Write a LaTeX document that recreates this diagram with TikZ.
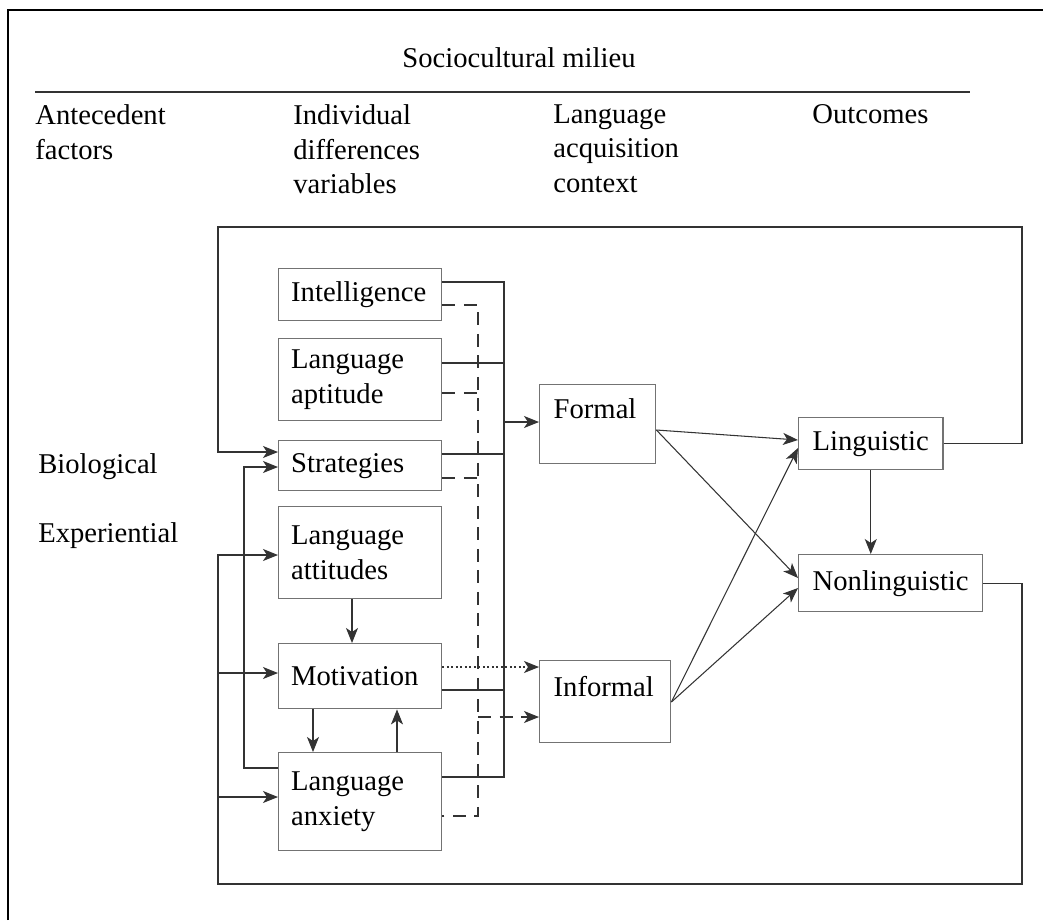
\documentclass[tikz,border=0pt]{standalone}
\usepackage{fontspec}
\setmainfont{Liberation Serif}
\usetikzlibrary{arrows.meta}

\tikzset{
  txt/.style={font=\fontsize{16.3}{19.8}\selectfont, inner sep=0pt},
  tip/.style={-{Stealth[length=0.3cm,width=0.24cm,inset=0.08cm]}},
  conn/.style={draw=black!80, line width=0.6pt},
  arr/.style={conn, tip},
  dashline/.style={conn, dash pattern=on 0.26cm off 0.17cm},
  dotline/.style={conn, dash pattern=on 0.04cm off 0.05cm},
  box/.style={txt, draw=black!55, line width=0.8pt, anchor=north west,
    align=left, inner xsep=0.25cm, inner ysep=0pt},
  leftbox/.style={box, text width=2.76cm},
  ctxbox/.style={box, inner xsep=0.28cm, text height=0.68cm},
  outbox/.style={box, inner xsep=0.28cm}
}

\begin{document}
\begin{tikzpicture}[x=0.02cm,y=-0.02cm]

  \def\busx{504}
  \def\dashx{478}
  \def\loopl{218}
  \def\loopr{1022}
  \def\loopt{227}
  \def\loopb{884}
  \def\fbx{244}

  \useasboundingbox (0,0) rectangle (1043,920);

  % frame
  \draw[line width=1.7pt] (8,920) -- (8,10) -- (1043,10);

  % headings
  \node[txt] (milieu) at (519,58) {Sociocultural milieu};
  \draw[conn, line width=0.7pt] (35,92) -- (970,92);
  \node[txt, anchor=north west, align=left] (antec) at (35,104) {Antecedent\\factors};
  \node[txt, anchor=north west, align=left] (indiv) at (293,104) {Individual\\differences\\variables};
  \node[txt, anchor=north west, align=left] (context) at (553,104) {Language\\acquisition\\context};
  \node[txt, anchor=north west, align=left] (outc) at (812,104) {Outcomes};
  \node[txt, anchor=west] (bio) at (38,467) {Biological};
  \node[txt, anchor=west] (exper) at (38,536) {Experiential};

  % individual differences
  \node[leftbox, minimum height=1.04cm] (intel) at (278,268) {Intelligence};
  \node[leftbox, minimum height=1.64cm] (apt) at (278,338) {Language\\aptitude};
  \node[leftbox, minimum height=1.00cm] (strat) at (278,440) {Strategies};
  \node[leftbox, minimum height=1.84cm] (att) at (278,506) {Language\\attitudes};
  \node[leftbox, minimum height=1.30cm] (motiv) at (278,643) {Motivation};
  \node[leftbox, minimum height=1.96cm] (anx) at (278,752) {Language\\anxiety};

  % contexts and outcomes
  \node[ctxbox, text width=1.76cm, text depth=0.90cm] (formal) at (539,384) {Formal};
  \node[ctxbox, text width=2.06cm, text depth=0.92cm, text height=0.72cm] (informal) at (539,660) {Informal};
  \node[outbox, minimum height=1.04cm] (ling) at (798,417) {Linguistic};
  \node[outbox, minimum height=1.14cm] (nonling) at (798,554) {Nonlinguistic};

  % solid bus to formal
  \draw[conn] (intel.east |- 0,282) -- (\busx,282) -- (\busx,777) -- (anx.east |- 0,777);
  \foreach \n/\y in {apt/363, strat/454, motiv/690}
    \draw[conn] (\n.east |- 0,\y) -- (\busx,\y);
  \draw[arr] (\busx,422) -- (formal.west |- 0,422);

  % dashed bus to informal
  \draw[dashline] (intel.east |- 0,305) -- (\dashx,305) -- (\dashx,816) -- (anx.east |- 0,816);
  \foreach \n/\y in {apt/393, strat/478}
    \draw[dashline] (\n.east |- 0,\y) -- (\dashx,\y);
  \draw[dashline, tip] (\dashx,717) -- (informal.west |- 0,717);
  \draw[dotline, tip] (motiv.east |- 0,667) -- (informal.west |- 0,667);

  % inner arrows
  \draw[arr] (att.south -| 352,0) -- (motiv.north -| 352,0);
  \draw[arr] (motiv.south -| 313,0) -- (anx.north -| 313,0);
  \draw[arr] (anx.north -| 397,0) -- (motiv.south -| 397,0);
  \draw[arr] (anx.west |- 0,768) -| (\fbx,467) -- (strat.west |- 0,467);

  % loops
  \draw[arr] (ling.east) -| (\loopr,\loopt) -| (\loopl,452) -- (strat.west |- 0,452);
  \draw[arr] (nonling.east) -| (\loopr,\loopb) -| (\loopl,555) -- (att.west |- 0,555);
  \foreach \n/\y in {motiv/673, anx/797}
    \draw[arr] (\loopl,\y) -- (\n.west |- 0,\y);

  % contexts to outcomes
  \draw[arr] (formal.east |- 0,430) -- (ling.west |- 0,440);
  \draw[arr] (formal.east |- 0,430) -- (nonling.west |- 0,578);
  \draw[arr] (informal.east |- 0,702) -- (ling.west |- 0,448);
  \draw[arr] (informal.east |- 0,702) -- (nonling.west |- 0,588);
  \draw[arr] (ling.south) -- (ling.south |- nonling.north);

\end{tikzpicture}
\end{document}
